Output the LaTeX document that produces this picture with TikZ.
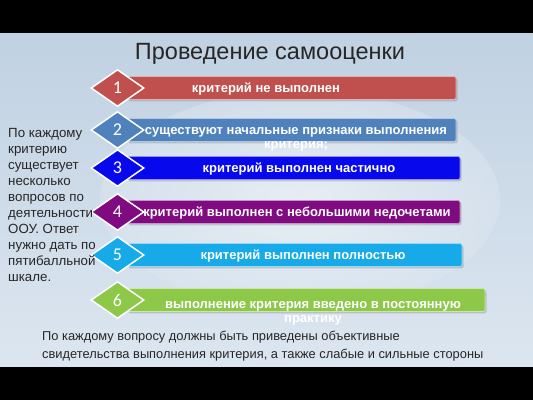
\documentclass[tikz,border=0pt]{standalone}
\usepackage{fontspec}
\setmainfont{Liberation Sans}
\newfontfamily\numfont{Carlito}
\usetikzlibrary{shapes.geometric,shadows}

\definecolor{critred}{RGB}{192,80,77}
\definecolor{critsteel}{RGB}{79,129,189}
\definecolor{critblue}{RGB}{8,8,236}
\definecolor{critpurple}{RGB}{128,10,128}
\definecolor{critsky}{RGB}{22,170,232}
\definecolor{critgreen}{RGB}{141,200,72}
\definecolor{bgtop}{RGB}{192,209,226}
\definecolor{bgbot}{RGB}{220,230,240}

\tikzset{
  critbar/.style={draw=white!55!#1,line width=.8pt,fill=#1,rounded corners=2pt,
    minimum height=23pt,inner sep=0pt,
    drop shadow={shadow xshift=1.5pt,shadow yshift=-1.8pt,opacity=.35}},
  badge/.style={diamond,draw=white,line width=1.5pt,fill=#1,minimum width=53pt,
    minimum height=37pt,inner sep=0pt,text=white,
    font=\numfont\fontsize{18}{18}\selectfont},
  bartext/.style={text=white,align=center,anchor=base,
    font=\bfseries\fontsize{13}{14}\selectfont},
  plain/.style={text=black!85,align=left,anchor=north west}
}

\begin{document}
\begin{tikzpicture}[x=1pt,y=-1pt]
  \useasboundingbox (0,0) rectangle (533,400);
  \fill[black] (0,0) rectangle (533,400);
  \shade[top color=bgtop,bottom color=bgbot] (0,33) rectangle (533,366);
  \shade[inner color=white,outer color=bgbot,opacity=.5] (300,200) ellipse (200 and 110);

  \node[font=\fontsize{23.5}{23.5}\selectfont,text=black!85] (title) at (270,53.5) {Проведение самооценки};

  % bars
  \node[critbar=critred,minimum width=329pt] (bar1) at (291.5,88) {};
  \node[critbar=critsteel,minimum width=329pt] (bar2) at (291.5,130) {};
  \node[critbar=critblue,minimum width=333pt] (bar3) at (293.5,168) {};
  \node[critbar=critpurple,minimum width=333pt] (bar4) at (293.5,212) {};
  \node[critbar=critsky,minimum width=335pt] (bar5) at (294.5,255) {};
  \node[critbar=critgreen,minimum width=358pt] (bar6) at (306,300) {};

  % numbers
  \node[badge=critred] (num1) at (117.5,88) {1};
  \node[badge=critsteel] (num2) at (117.5,130) {2};
  \node[badge=critblue] (num3) at (117.5,168) {3};
  \node[badge=critpurple] (num4) at (117.5,212) {4};
  \node[badge=critsky] (num5) at (117.5,255) {5};
  \node[badge=critgreen] (num6) at (117.5,300) {6};

  \node[bartext] (txt1) at (266,92.5) {критерий не выполнен};
  \node[bartext] (txt2) at (296,148) {существуют начальные признаки выполнения\\критерия;};
  \node[bartext] (txt3) at (299,172.5) {критерий выполнен частично};
  \node[bartext] (txt4) at (297,216.5) {критерий выполнен с небольшими недочетами};
  \node[bartext] (txt5) at (303,259.5) {критерий выполнен полностью};
  \node[bartext] (txt6) at (313,322.5) {выполнение критерия введено в постоянную\\практику};

  \node[plain,font=\fontsize{13.3}{16}\selectfont,inner sep=0pt] (note) at (8,128)
    {По каждому\\критерию\\существует\\несколько\\вопросов по\\деятельности\\ООУ. Ответ\\нужно дать по\\пятибалльной\\шкале.};
  \node[plain,font=\fontsize{12.85}{18}\selectfont,inner sep=0pt] (foot) at (42,331)
    {По каждому вопросу должны быть приведены объективные\\свидетельства выполнения критерия, а также слабые и сильные стороны};
\end{tikzpicture}
\end{document}
